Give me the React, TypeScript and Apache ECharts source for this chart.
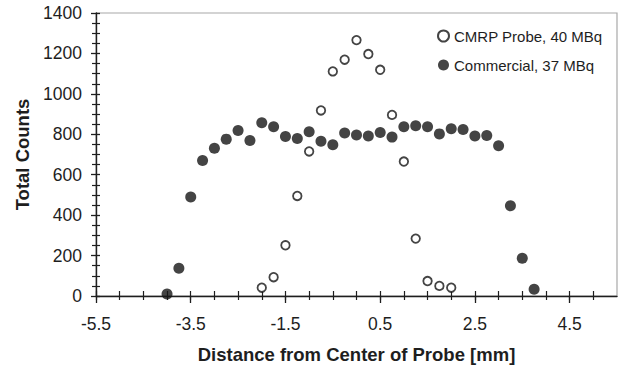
import React, { useEffect, useRef } from "react";
import * as echarts from "echarts";

const cmrpX = [-2.0, -1.75, -1.5, -1.25, -1.0, -0.75, -0.5, -0.25, 0.0, 0.25, 0.5, 0.75, 1.0, 1.25, 1.5, 1.75, 2.0];
const cmrpY = [41, 93, 251, 495, 715, 918, 1111, 1169, 1266, 1197, 1119, 896, 665, 284, 74, 50, 41];

const commX = [
  -4.0, -3.75, -3.5, -3.25, -3.0, -2.75, -2.5, -2.25, -2.0, -1.75, -1.5, -1.25, -1.0,
  -0.75, -0.5, -0.25, 0.0, 0.25, 0.5, 0.75,
  1.0, 1.25, 1.5, 1.75, 2.0, 2.25, 2.5, 2.75, 3.0,
  3.25, 3.5, 3.75,
];
const commY = [
  10, 137, 490, 670, 731, 776, 819, 769, 857, 837, 789, 779, 812,
  766, 748, 806, 797, 792, 809, 786,
  837, 842, 837, 802, 827, 824, 792, 794, 743,
  446, 187, 33,
];

const xMajorTicks = [-5.5, -3.5, -1.5, 0.5, 2.5, 4.5];
const xMinorTicks = [
  -5.5, -5, -4.5, -4, -3.5, -3, -2.5, -2, -1.5, -1, -0.5, 0, 0.5, 1, 1.5, 2, 2.5, 3, 3.5, 4, 4.5, 5,
];

const seriesNames = ["CMRP Probe, 40 MBq", "Commercial, 37 MBq"];
const xTitle = "Distance from Center of Probe [mm]";
const yTitle = "Total Counts";

const FONT = "'Liberation Sans', Arial, sans-serif";
const INK = "#1e1e1e";

export default function App() {
  const ref = useRef<HTMLDivElement>(null);

  useEffect(() => {
    if (!ref.current) return;
    const chart = echarts.init(ref.current, undefined, { renderer: "svg" });

    const xBase = {
      type: "value",
      min: -5.5,
      max: 5.5,
      position: "bottom",
      splitLine: { show: false },
    };
    const yBase = {
      type: "value",
      min: 0,
      max: 1400,
      interval: 200,
      position: "left",
      splitLine: { show: false },
    };

    const option: any = {
      animation: false,
      backgroundColor: "#ffffff",
      textStyle: { fontFamily: FONT },
      grid: {
        left: 96,
        right: 6,
        top: 13,
        bottom: 74,
        show: true,
        borderColor: "#a8a8a8",
        borderWidth: 1.2,
        backgroundColor: "transparent",
      },
      legend: {
        orient: "vertical",
        left: 437,
        top: 28.5,
        padding: 0,
        itemWidth: 11,
        itemHeight: 11,
        itemGap: 14,
        textStyle: { fontSize: 15, color: INK, fontFamily: FONT },
        data: [
          { name: seriesNames[0], icon: "circle" },
          { name: seriesNames[1], icon: "circle" },
        ],
      },
      xAxis: [
        {
          ...xBase,
          axisLine: { show: true, onZero: false, lineStyle: { color: INK, width: 1.4 } },
          axisTick: { show: true, customValues: xMajorTicks, length: 7, lineStyle: { color: INK, width: 1.3 } },
          axisLabel: {
            show: true,
            customValues: xMajorTicks,
            fontSize: 17.5,
            color: INK,
            fontFamily: FONT,
            margin: 19,
            formatter: (v: number) => String(v),
          },
          name: xTitle,
          nameLocation: "middle",
          nameGap: 49,
          nameTextStyle: { fontSize: 18.5, fontWeight: "bold", color: INK, fontFamily: FONT },
        },
        {
          ...xBase,
          axisLine: { show: false, onZero: false },
          axisTick: { show: true, customValues: xMinorTicks, length: 4, lineStyle: { color: INK, width: 1.2 } },
          axisLabel: { show: false },
        },
        {
          ...xBase,
          axisLine: { show: false, onZero: false },
          axisTick: { show: true, inside: true, customValues: xMinorTicks, length: 5, lineStyle: { color: INK, width: 1.2 } },
          axisLabel: { show: false },
        },
      ],
      yAxis: [
        {
          ...yBase,
          axisLine: { show: true, onZero: false, lineStyle: { color: INK, width: 1.4 } },
          axisTick: { show: true, length: 5, lineStyle: { color: INK, width: 1.3 } },
          minorTick: { show: true, splitNumber: 4, length: 4, lineStyle: { color: INK, width: 1.2 } },
          axisLabel: {
            fontSize: 17.5,
            color: INK,
            fontFamily: FONT,
            margin: 14,
            formatter: (v: number) => String(v),
          },
          name: yTitle,
          nameLocation: "middle",
          nameRotate: 90,
          nameGap: 64,
          nameTextStyle: { fontSize: 18.5, fontWeight: "bold", color: INK, fontFamily: FONT },
        },
        {
          ...yBase,
          axisLine: { show: false, onZero: false },
          axisTick: { show: true, inside: true, length: 4, lineStyle: { color: INK, width: 1.3 } },
          minorTick: { show: true, splitNumber: 4, length: 4, lineStyle: { color: INK, width: 1.2 } },
          axisLabel: { show: false },
        },
      ],
      series: [
        {
          name: seriesNames[1],
          type: "scatter",
          xAxisIndex: 0,
          yAxisIndex: 0,
          symbol: "circle",
          symbolSize: 11,
          itemStyle: { color: "#151515" },
          data: commX.map((x, i) => [x, commY[i]]),
        },
        {
          name: seriesNames[0],
          type: "scatter",
          xAxisIndex: 0,
          yAxisIndex: 0,
          symbol: "circle",
          symbolSize: 8.5,
          itemStyle: { color: "#ffffff", borderColor: "#151515", borderWidth: 1.8 },
          data: cmrpX.map((x, i) => [x, cmrpY[i]]),
        },
      ],
    };

    chart.setOption(option);
    return () => chart.dispose();
  }, []);

  return (
    <div
      ref={ref}
      style={{ position: "fixed", left: 0, top: 0, width: 623, height: 370, background: "#fff" }}
    />
  );
}
